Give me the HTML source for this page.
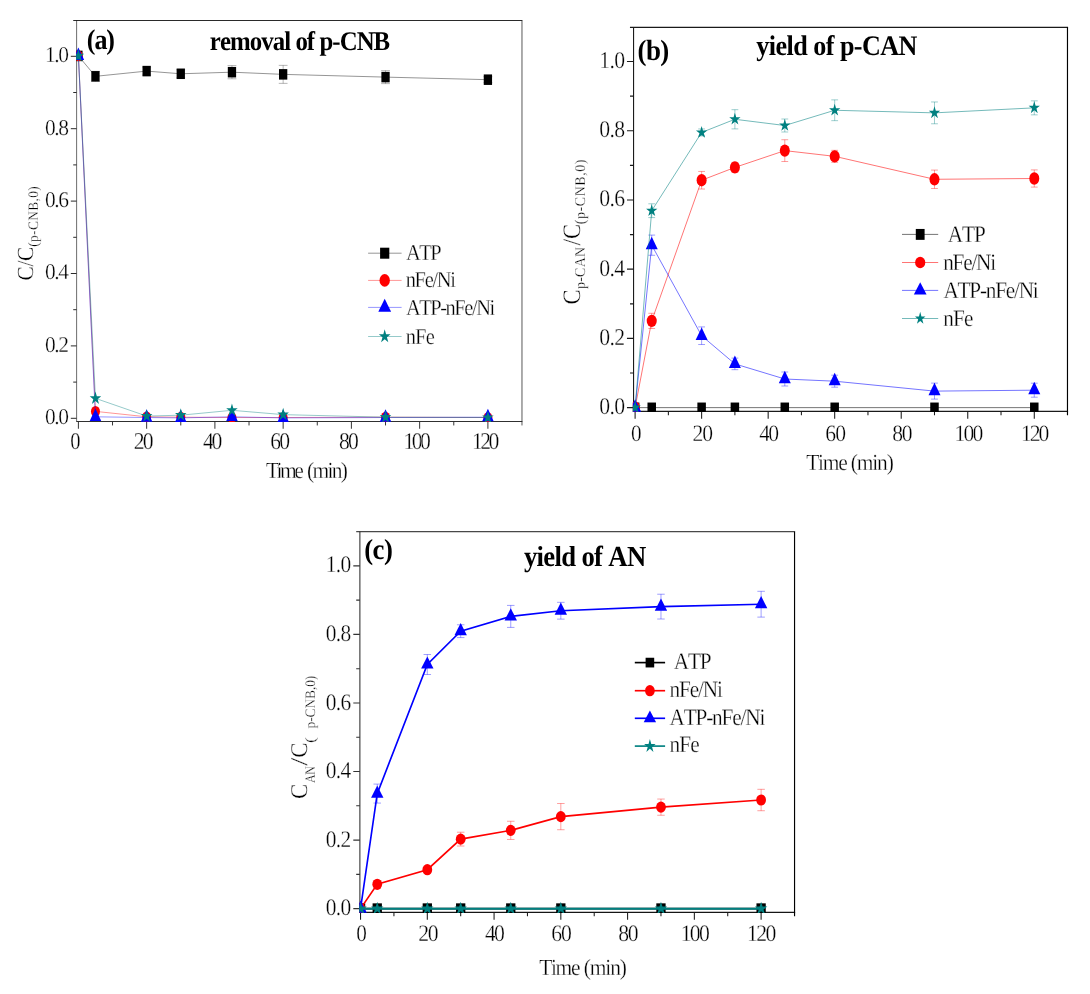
<!DOCTYPE html>
<html><head><meta charset="utf-8"><title>figure</title>
<style>html,body{margin:0;padding:0;background:#fff}svg{display:block;will-change:transform}text{font-family:"Liberation Serif",serif;font-kerning:none;white-space:pre;text-rendering:geometricPrecision}text.r{stroke:#fff;stroke-width:0.3px}</style>
</head><body>
<svg width="1090" height="994" viewBox="0 0 1090 994" font-family="'Liberation Serif', serif" fill="#000">
<rect width="1090" height="994" fill="#fff"/>
<line x1="73.22" y1="20.46" x2="522.35" y2="20.46" stroke="#2a2a2a" stroke-width="1.1"/>
<line x1="76.31" y1="421.45" x2="522.35" y2="421.45" stroke="#303030" stroke-width="1.05"/>
<line x1="76.62" y1="20.46" x2="76.62" y2="421.45" stroke="#111" stroke-width="0.62"/>
<line x1="521.97" y1="20.46" x2="521.97" y2="425.45" stroke="#222" stroke-width="0.75"/>
<path d="M78.40,421.45v7.3M112.53,421.45v4M146.65,421.45v7.3M180.78,421.45v4M214.90,421.45v7.3M249.03,421.45v4M283.15,421.45v7.3M317.27,421.45v4M351.40,421.45v7.3M385.52,421.45v4M419.65,421.45v7.3M453.77,421.45v4M487.90,421.45v7.3" fill="none" stroke="#2a2a2a" stroke-width="0.95"/>
<path d="M76.62,418.30h-5.8M76.62,382.10h-3.4M76.62,345.90h-5.8M76.62,309.70h-3.4M76.62,273.50h-5.8M76.62,237.30h-3.4M76.62,201.10h-5.8M76.62,164.90h-3.4M76.62,128.70h-5.8M76.62,92.50h-3.4M76.62,56.30h-5.8" fill="none" stroke="#2a2a2a" stroke-width="1.0"/>
<clipPath id="clipa"><rect x="76.16" y="20.46" width="445.81" height="401.62"/></clipPath>
<g clip-path="url(#clipa)">
<polyline points="78.40,55.90 95.46,76.32 146.65,71.10 180.78,73.78 231.96,72.19 283.15,74.36 385.52,77.11 487.90,79.68" fill="none" stroke="#000" stroke-width="0.42" stroke-opacity="1"/>
<path d="M95.46,71.32V81.32M91.06,71.32H99.86M91.06,81.32H99.86M146.65,67.10V75.10M142.25,67.10H151.05M142.25,75.10H151.05M180.78,69.78V77.78M176.38,69.78H185.18M176.38,77.78H185.18M231.96,65.59V78.79M227.56,65.59H236.36M227.56,78.79H236.36M283.15,65.36V83.36M278.75,65.36H287.55M278.75,83.36H287.55M385.52,70.61V83.61M381.12,70.61H389.92M381.12,83.61H389.92M487.90,76.68V82.68M483.50,76.68H492.30M483.50,82.68H492.30" fill="none" stroke="#444" stroke-width="0.65" stroke-opacity="0.6"/>
<rect x="74.25" y="50.65" width="8.30" height="10.50" fill="#000"/>
<rect x="91.31" y="71.07" width="8.30" height="10.50" fill="#000"/>
<rect x="142.50" y="65.85" width="8.30" height="10.50" fill="#000"/>
<rect x="176.62" y="68.53" width="8.30" height="10.50" fill="#000"/>
<rect x="227.81" y="66.94" width="8.30" height="10.50" fill="#000"/>
<rect x="279.00" y="69.11" width="8.30" height="10.50" fill="#000"/>
<rect x="381.38" y="71.86" width="8.30" height="10.50" fill="#000"/>
<rect x="483.75" y="74.43" width="8.30" height="10.50" fill="#000"/>
<polyline points="78.40,55.90 95.46,411.38 146.65,416.81 180.78,417.18 231.96,417.54 283.15,417.54 385.52,417.18 487.90,417.54" fill="none" stroke="#ff0000" stroke-width="0.42" stroke-opacity="1"/>
<ellipse cx="78.40" cy="55.90" rx="4.50" ry="5.40" fill="#ff0000"/>
<ellipse cx="95.46" cy="411.38" rx="4.50" ry="5.40" fill="#ff0000"/>
<ellipse cx="146.65" cy="416.81" rx="4.50" ry="5.40" fill="#ff0000"/>
<ellipse cx="180.78" cy="417.18" rx="4.50" ry="5.40" fill="#ff0000"/>
<ellipse cx="231.96" cy="417.54" rx="4.50" ry="5.40" fill="#ff0000"/>
<ellipse cx="283.15" cy="417.54" rx="4.50" ry="5.40" fill="#ff0000"/>
<ellipse cx="385.52" cy="417.18" rx="4.50" ry="5.40" fill="#ff0000"/>
<ellipse cx="487.90" cy="417.54" rx="4.50" ry="5.40" fill="#ff0000"/>
<polyline points="78.40,55.90 95.46,416.81 146.65,417.54 180.78,417.90 231.96,416.81 283.15,417.90 385.52,417.54 487.90,417.18" fill="none" stroke="#0000ff" stroke-width="0.42" stroke-opacity="1"/>
<polygon points="78.40,47.57 72.65,60.07 84.15,60.07" fill="#0000ff"/>
<polygon points="95.46,408.48 89.71,420.98 101.21,420.98" fill="#0000ff"/>
<polygon points="146.65,409.20 140.90,421.70 152.40,421.70" fill="#0000ff"/>
<polygon points="180.78,409.57 175.03,422.07 186.53,422.07" fill="#0000ff"/>
<polygon points="231.96,408.48 226.21,420.98 237.71,420.98" fill="#0000ff"/>
<polygon points="283.15,409.57 277.40,422.07 288.90,422.07" fill="#0000ff"/>
<polygon points="385.52,409.20 379.77,421.70 391.27,421.70" fill="#0000ff"/>
<polygon points="487.90,408.84 482.15,421.34 493.65,421.34" fill="#0000ff"/>
<polyline points="78.40,55.90 95.46,398.35 146.65,416.09 180.78,415.19 231.96,410.30 283.15,414.64 385.52,417.18 487.90,417.54" fill="none" stroke="#008080" stroke-width="0.42" stroke-opacity="1"/>
<polygon points="78.40,48.99 79.76,53.76 84.15,53.76 80.60,56.72 81.95,61.49 78.40,58.54 74.85,61.49 76.20,56.72 72.65,53.76 77.04,53.76" fill="#008080"/>
<polygon points="95.46,391.44 96.82,396.22 101.21,396.22 97.66,399.17 99.02,403.94 95.46,400.99 91.91,403.94 93.27,399.17 89.71,396.22 94.10,396.22" fill="#008080"/>
<polygon points="146.65,409.18 148.01,413.95 152.40,413.95 148.85,416.91 150.20,421.68 146.65,418.73 143.10,421.68 144.45,416.91 140.90,413.95 145.29,413.95" fill="#008080"/>
<polygon points="180.78,408.28 182.13,413.05 186.53,413.05 182.97,416.00 184.33,420.78 180.78,417.82 177.22,420.78 178.58,416.00 175.03,413.05 179.42,413.05" fill="#008080"/>
<polygon points="231.96,403.39 233.32,408.16 237.71,408.16 234.16,411.11 235.52,415.89 231.96,412.94 228.41,415.89 229.77,411.11 226.21,408.16 230.60,408.16" fill="#008080"/>
<polygon points="283.15,407.73 284.51,412.51 288.90,412.51 285.35,415.46 286.70,420.23 283.15,417.28 279.60,420.23 280.95,415.46 277.40,412.51 281.79,412.51" fill="#008080"/>
<polygon points="385.52,410.27 386.88,415.04 391.27,415.04 387.72,417.99 389.08,422.77 385.52,419.82 381.97,422.77 383.33,417.99 379.77,415.04 384.17,415.04" fill="#008080"/>
<polygon points="487.90,410.63 489.26,415.40 493.65,415.40 490.10,418.35 491.45,423.13 487.90,420.18 484.35,423.13 485.70,418.35 482.15,415.40 486.54,415.40" fill="#008080"/>
</g>
<text transform="translate(70.32,448.80) scale(0.855299539170507,1)" font-size="24" class="r" letter-spacing="0.000">0</text>
<text transform="translate(133.85,448.80) scale(0.9,1)" font-size="24" class="r" letter-spacing="-2.031">20</text>
<text transform="translate(202.98,448.80) scale(0.9,1)" font-size="24" class="r" letter-spacing="-2.506">40</text>
<text transform="translate(270.17,448.80) scale(0.9,1)" font-size="24" class="r" letter-spacing="-1.832">60</text>
<text transform="translate(339.08,448.80) scale(0.9,1)" font-size="24" class="r" letter-spacing="-2.172">80</text>
<text transform="translate(403.50,448.80) scale(0.9,1)" font-size="24" class="r" letter-spacing="-2.822">100</text>
<text transform="translate(472.10,448.80) scale(0.9,1)" font-size="24" class="r" letter-spacing="-2.822">120</text>
<text class="r" transform="translate(44.88,424.20) scale(0.95,1)" font-size="22.6" letter-spacing="-1.475">0.0</text>
<text class="r" transform="translate(44.88,351.80) scale(0.95,1)" font-size="22.6" letter-spacing="-1.475">0.2</text>
<text class="r" transform="translate(44.88,279.40) scale(0.95,1)" font-size="22.6" letter-spacing="-1.475">0.4</text>
<text class="r" transform="translate(44.88,207.00) scale(0.95,1)" font-size="22.6" letter-spacing="-1.475">0.6</text>
<text class="r" transform="translate(44.88,134.60) scale(0.95,1)" font-size="22.6" letter-spacing="-1.475">0.8</text>
<text class="r" transform="translate(44.88,62.20) scale(0.95,1)" font-size="22.6" letter-spacing="-1.475">1.0</text>
<text transform="translate(266.01,477.90) scale(0.93,1)" font-size="23.1" class="r" letter-spacing="-2.725">Time</text>
<text transform="translate(306.96,477.90) scale(0.93,1)" font-size="23.1" class="r" letter-spacing="-1.812">(min)</text>
<line x1="368.1" y1="253.2" x2="401.6" y2="253.2" stroke="#000" stroke-width="0.42" stroke-opacity="1"/>
<rect x="380.10" y="247.70" width="9.20" height="11.00" fill="#000"/>
<text transform="translate(405.90,260.10) scale(0.9,1)" font-size="22.7" class="r" letter-spacing="-1.599">ATP</text>
<line x1="368.1" y1="280.4" x2="401.6" y2="280.4" stroke="#ff0000" stroke-width="0.42" stroke-opacity="1"/>
<ellipse cx="384.70" cy="280.40" rx="5.20" ry="6.30" fill="#ff0000"/>
<text transform="translate(405.63,287.30) scale(0.9,1)" font-size="22.7" class="r" letter-spacing="-1.421">nFe/Ni</text>
<line x1="368.1" y1="307.4" x2="401.6" y2="307.4" stroke="#0000ff" stroke-width="0.42" stroke-opacity="1"/>
<polygon points="384.70,298.73 378.30,311.73 391.10,311.73" fill="#0000ff"/>
<text transform="translate(405.90,314.50) scale(0.9,1)" font-size="22.7" class="r" letter-spacing="-1.588">ATP-nFe/Ni</text>
<line x1="368.1" y1="336.5" x2="401.6" y2="336.5" stroke="#008080" stroke-width="0.42" stroke-opacity="1"/>
<polygon points="384.70,329.37 386.08,334.30 390.55,334.30 386.93,337.34 388.32,342.27 384.70,339.22 381.08,342.27 382.47,337.34 378.85,334.30 383.32,334.30" fill="#008080"/>
<text transform="translate(405.63,343.60) scale(0.9,1)" font-size="22.7" class="r" letter-spacing="-0.871">nFe</text>
<text transform="translate(86.86,48.70) scale(0.92,1)" font-size="28.3" font-weight="bold" letter-spacing="-1.234">(a)</text>
<text transform="translate(209.83,50.40) scale(0.92,1)" font-size="27" font-weight="bold" letter-spacing="-1.028">removal of p-CNB</text>
<line x1="629.96" y1="27.25" x2="1068.06" y2="27.25" stroke="#1a1a1a" stroke-width="1.25"/>
<line x1="633.01" y1="411.34" x2="1068.06" y2="411.34" stroke="#1a1a1a" stroke-width="1.3"/>
<line x1="633.56" y1="27.25" x2="633.56" y2="411.34" stroke="#1a1a1a" stroke-width="1.1"/>
<line x1="1067.48" y1="27.25" x2="1067.48" y2="415.34" stroke="#000" stroke-width="1.15"/>
<path d="M635.10,411.34v7.3M668.37,411.34v4M701.63,411.34v7.3M734.89,411.34v4M768.16,411.34v7.3M801.42,411.34v4M834.69,411.34v7.3M867.96,411.34v4M901.22,411.34v7.3M934.49,411.34v4M967.75,411.34v7.3M1001.01,411.34v4M1034.28,411.34v7.3" fill="none" stroke="#1a1a1a" stroke-width="1.05"/>
<path d="M633.56,407.64h-6.6M633.56,373.03h-3.6M633.56,338.41h-6.6M633.56,303.80h-3.6M633.56,269.18h-6.6M633.56,234.57h-3.6M633.56,199.96h-6.6M633.56,165.34h-3.6M633.56,130.73h-6.6M633.56,96.11h-3.6M633.56,61.50h-6.6" fill="none" stroke="#1a1a1a" stroke-width="1.15"/>
<clipPath id="clipb"><rect x="632.86" y="27.25" width="434.62" height="384.84"/></clipPath>
<g clip-path="url(#clipb)">
<polyline points="635.10,407.64 651.73,407.64 701.63,407.64 734.89,407.64 784.79,407.64 834.69,407.64 934.49,407.64 1034.28,407.64" fill="none" stroke="#000" stroke-width="0.55" stroke-opacity="1"/>
<rect x="630.85" y="402.54" width="8.50" height="10.20" fill="#000"/>
<rect x="647.48" y="402.54" width="8.50" height="10.20" fill="#000"/>
<rect x="697.38" y="402.54" width="8.50" height="10.20" fill="#000"/>
<rect x="730.64" y="402.54" width="8.50" height="10.20" fill="#000"/>
<rect x="780.54" y="402.54" width="8.50" height="10.20" fill="#000"/>
<rect x="830.44" y="402.54" width="8.50" height="10.20" fill="#000"/>
<rect x="930.24" y="402.54" width="8.50" height="10.20" fill="#000"/>
<rect x="1030.03" y="402.54" width="8.50" height="10.20" fill="#000"/>
<polyline points="635.10,407.64 651.73,320.89 701.63,180.23 734.89,167.41 784.79,150.62 834.69,156.33 934.49,179.29 1034.28,178.50" fill="none" stroke="#ff0000" stroke-width="0.55" stroke-opacity="1"/>
<path d="M651.73,313.29V328.49M648.33,313.29H655.13M648.33,328.49H655.13M701.63,171.43V189.03M698.23,171.43H705.03M698.23,189.03H705.03M734.89,162.41V172.41M731.50,162.41H738.29M731.50,172.41H738.29M784.79,139.72V161.52M781.39,139.72H788.19M781.39,161.52H788.19M834.69,150.33V162.33M831.29,150.33H838.09M831.29,162.33H838.09M934.49,170.09V188.49M931.09,170.09H937.88M931.09,188.49H937.88M1034.28,169.90V187.10M1030.88,169.90H1037.68M1030.88,187.10H1037.68" fill="none" stroke="#ff0000" stroke-width="0.6" stroke-opacity="0.65"/>
<ellipse cx="635.10" cy="407.64" rx="5.00" ry="6.20" fill="#ff0000"/>
<ellipse cx="651.73" cy="320.89" rx="5.00" ry="6.20" fill="#ff0000"/>
<ellipse cx="701.63" cy="180.23" rx="5.00" ry="6.20" fill="#ff0000"/>
<ellipse cx="734.89" cy="167.41" rx="5.00" ry="6.20" fill="#ff0000"/>
<ellipse cx="784.79" cy="150.62" rx="5.00" ry="6.20" fill="#ff0000"/>
<ellipse cx="834.69" cy="156.33" rx="5.00" ry="6.20" fill="#ff0000"/>
<ellipse cx="934.49" cy="179.29" rx="5.00" ry="6.20" fill="#ff0000"/>
<ellipse cx="1034.28" cy="178.50" rx="5.00" ry="6.20" fill="#ff0000"/>
<polyline points="635.10,407.64 651.73,245.19 701.63,335.72 734.89,363.90 784.79,379.00 834.69,381.19 934.49,391.12 1034.28,390.19" fill="none" stroke="#0000ff" stroke-width="0.55" stroke-opacity="1"/>
<path d="M651.73,235.09V255.29M648.33,235.09H655.13M648.33,255.29H655.13M701.63,326.92V344.52M698.23,326.92H705.03M698.23,344.52H705.03M734.89,358.10V369.70M731.50,358.10H738.29M731.50,369.70H738.29M784.79,372.00V386.00M781.39,372.00H788.19M781.39,386.00H788.19M834.69,375.19V387.19M831.29,375.19H838.09M831.29,387.19H838.09M934.49,383.12V399.12M931.09,383.12H937.88M931.09,399.12H937.88M1034.28,383.19V397.19M1030.88,383.19H1037.68M1030.88,397.19H1037.68" fill="none" stroke="#0000ff" stroke-width="0.6" stroke-opacity="0.65"/>
<polygon points="635.10,399.31 629.10,411.81 641.10,411.81" fill="#0000ff"/>
<polygon points="651.73,236.86 645.73,249.36 657.73,249.36" fill="#0000ff"/>
<polygon points="701.63,327.38 695.63,339.88 707.63,339.88" fill="#0000ff"/>
<polygon points="734.89,355.57 728.89,368.07 740.89,368.07" fill="#0000ff"/>
<polygon points="784.79,370.67 778.79,383.17 790.79,383.17" fill="#0000ff"/>
<polygon points="834.69,372.85 828.69,385.35 840.69,385.35" fill="#0000ff"/>
<polygon points="934.49,382.79 928.49,395.29 940.49,395.29" fill="#0000ff"/>
<polygon points="1034.28,381.86 1028.28,394.36 1040.28,394.36" fill="#0000ff"/>
<polyline points="635.10,407.64 651.73,210.70 701.63,132.44 734.89,119.28 784.79,125.51 834.69,110.27 934.49,112.87 1034.28,107.85" fill="none" stroke="#008080" stroke-width="0.55" stroke-opacity="1"/>
<path d="M651.73,203.80V217.60M648.33,203.80H655.13M648.33,217.60H655.13M701.63,128.94V135.94M698.23,128.94H705.03M698.23,135.94H705.03M734.89,109.68V128.88M731.50,109.68H738.29M731.50,128.88H738.29M784.79,119.01V132.01M781.39,119.01H788.19M781.39,132.01H788.19M834.69,99.87V120.67M831.29,99.87H838.09M831.29,120.67H838.09M934.49,101.97V123.77M931.09,101.97H937.88M931.09,123.77H937.88M1034.28,100.85V114.85M1030.88,100.85H1037.68M1030.88,114.85H1037.68" fill="none" stroke="#008080" stroke-width="0.6" stroke-opacity="0.65"/>
<polygon points="635.10,401.12 636.43,405.62 640.75,405.62 637.26,408.41 638.59,412.92 635.10,410.13 631.61,412.92 632.94,408.41 629.45,405.62 633.77,405.62" fill="#008080"/>
<polygon points="651.73,204.18 653.07,208.69 657.38,208.69 653.89,211.47 655.22,215.98 651.73,213.19 648.24,215.98 649.57,211.47 646.08,208.69 650.40,208.69" fill="#008080"/>
<polygon points="701.63,125.91 702.96,130.42 707.28,130.42 703.79,133.21 705.12,137.71 701.63,134.93 698.14,137.71 699.47,133.21 695.98,130.42 700.30,130.42" fill="#008080"/>
<polygon points="734.89,112.76 736.23,117.26 740.54,117.26 737.05,120.05 738.39,124.56 734.89,121.77 731.40,124.56 732.74,120.05 729.25,117.26 733.56,117.26" fill="#008080"/>
<polygon points="784.79,118.99 786.13,123.50 790.44,123.50 786.95,126.28 788.28,130.79 784.79,128.00 781.30,130.79 782.63,126.28 779.14,123.50 783.46,123.50" fill="#008080"/>
<polygon points="834.69,103.75 836.02,108.26 840.34,108.26 836.85,111.04 838.18,115.55 834.69,112.77 831.20,115.55 832.53,111.04 829.04,108.26 833.36,108.26" fill="#008080"/>
<polygon points="934.49,106.35 935.82,110.86 940.13,110.86 936.64,113.64 937.98,118.15 934.49,115.36 930.99,118.15 932.33,113.64 928.84,110.86 933.15,110.86" fill="#008080"/>
<polygon points="1034.28,101.33 1035.61,105.83 1039.93,105.83 1036.44,108.62 1037.77,113.13 1034.28,110.34 1030.79,113.13 1032.12,108.62 1028.63,105.83 1032.95,105.83" fill="#008080"/>
</g>
<text transform="translate(630.99,441.00) scale(0.9036180017648789,1)" font-size="23.5" class="r" letter-spacing="0.000">0</text>
<text transform="translate(692.45,441.00) scale(0.92,1)" font-size="23.5" class="r" letter-spacing="-1.137">20</text>
<text transform="translate(759.28,441.00) scale(0.92,1)" font-size="23.5" class="r" letter-spacing="-1.929">40</text>
<text transform="translate(825.37,441.00) scale(0.92,1)" font-size="23.5" class="r" letter-spacing="-1.052">60</text>
<text transform="translate(892.18,441.00) scale(0.92,1)" font-size="23.5" class="r" letter-spacing="-1.384">80</text>
<text transform="translate(954.60,441.00) scale(0.92,1)" font-size="23.5" class="r" letter-spacing="-2.069">100</text>
<text transform="translate(1020.90,441.00) scale(0.92,1)" font-size="23.5" class="r" letter-spacing="-2.232">120</text>
<text class="r" transform="translate(599.17,414.14) scale(0.9,1)" font-size="24.1" letter-spacing="-0.700">0.0</text>
<text class="r" transform="translate(599.17,344.91) scale(0.9,1)" font-size="24.1" letter-spacing="-0.700">0.2</text>
<text class="r" transform="translate(599.17,275.68) scale(0.9,1)" font-size="24.1" letter-spacing="-0.700">0.4</text>
<text class="r" transform="translate(599.17,206.46) scale(0.9,1)" font-size="24.1" letter-spacing="-0.700">0.6</text>
<text class="r" transform="translate(599.17,137.23) scale(0.9,1)" font-size="24.1" letter-spacing="-0.700">0.8</text>
<text class="r" transform="translate(599.17,68.00) scale(0.9,1)" font-size="24.1" letter-spacing="-0.700">1.0</text>
<text transform="translate(806.21,470.30) scale(0.93,1)" font-size="23.1" class="r" letter-spacing="-1.363">Time</text>
<text transform="translate(850.66,470.30) scale(0.93,1)" font-size="23.1" class="r" letter-spacing="-1.220">(min)</text>
<line x1="902.0" y1="234.4" x2="938.2" y2="234.4" stroke="#000" stroke-width="0.55" stroke-opacity="1"/>
<rect x="915.80" y="228.95" width="8.80" height="10.90" fill="#000"/>
<text transform="translate(947.79,241.70) scale(0.9,1)" font-size="23.6" class="r" letter-spacing="-1.204">ATP</text>
<line x1="902.0" y1="262.5" x2="938.2" y2="262.5" stroke="#ff0000" stroke-width="0.55" stroke-opacity="1"/>
<ellipse cx="920.20" cy="262.50" rx="5.10" ry="5.80" fill="#ff0000"/>
<text transform="translate(943.21,269.80) scale(0.9,1)" font-size="23.6" class="r" letter-spacing="-1.358">nFe/Ni</text>
<line x1="902.0" y1="290.4" x2="938.2" y2="290.4" stroke="#0000ff" stroke-width="0.55" stroke-opacity="1"/>
<polygon points="920.20,282.13 913.85,294.53 926.55,294.53" fill="#0000ff"/>
<text transform="translate(943.49,297.50) scale(0.9,1)" font-size="23.6" class="r" letter-spacing="-1.357">ATP-nFe/Ni</text>
<line x1="902.0" y1="318.5" x2="938.2" y2="318.5" stroke="#008080" stroke-width="0.55" stroke-opacity="1"/>
<polygon points="920.20,311.87 921.44,316.45 925.45,316.45 922.21,319.28 923.44,323.87 920.20,321.03 916.96,323.87 918.19,319.28 914.95,316.45 918.96,316.45" fill="#008080"/>
<text transform="translate(943.21,325.60) scale(0.9,1)" font-size="23.6" class="r" letter-spacing="-0.965">nFe</text>
<text transform="translate(637.62,60.40) scale(0.92,1)" font-size="29.3" font-weight="bold" letter-spacing="-0.748">(b)</text>
<text transform="translate(756.34,55.10) scale(0.92,1)" font-size="28.4" font-weight="bold" letter-spacing="-0.600">yield of p-CAN</text>
<line x1="356.20" y1="531.7" x2="795.12" y2="531.7" stroke="#484848" stroke-width="1.2"/>
<line x1="359.40" y1="912.35" x2="795.12" y2="912.35" stroke="#151515" stroke-width="1.15"/>
<line x1="359.9" y1="531.7" x2="359.9" y2="912.35" stroke="#222" stroke-width="1.0"/>
<line x1="794.55" y1="531.7" x2="794.55" y2="916.35" stroke="#000" stroke-width="1.15"/>
<path d="M360.55,912.35v7.3M393.93,912.35v4M427.31,912.35v7.3M460.69,912.35v4M494.07,912.35v7.3M527.45,912.35v4M560.83,912.35v7.3M594.21,912.35v4M627.59,912.35v7.3M660.97,912.35v4M694.35,912.35v7.3M727.73,912.35v4M761.11,912.35v7.3" fill="none" stroke="#1a1a1a" stroke-width="1.05"/>
<path d="M359.9,908.64h-6.6M359.9,874.36h-3.7M359.9,840.08h-6.6M359.9,805.81h-3.7M359.9,771.53h-6.6M359.9,737.25h-3.7M359.9,702.97h-6.6M359.9,668.69h-3.7M359.9,634.42h-6.6M359.9,600.14h-3.7M359.9,565.86h-6.6" fill="none" stroke="#333" stroke-width="1.1"/>
<clipPath id="clipc"><rect x="359.25" y="531.70" width="435.30" height="381.33"/></clipPath>
<g clip-path="url(#clipc)">
<polyline points="360.55,908.64 377.24,908.64 427.31,908.64 460.69,908.64 510.76,908.64 560.83,908.64 660.97,908.64 761.11,908.64" fill="none" stroke="#000" stroke-width="1.65" stroke-opacity="1"/>
<rect x="355.90" y="903.34" width="9.30" height="10.60" fill="#000"/>
<rect x="372.59" y="903.34" width="9.30" height="10.60" fill="#000"/>
<rect x="422.66" y="903.34" width="9.30" height="10.60" fill="#000"/>
<rect x="456.04" y="903.34" width="9.30" height="10.60" fill="#000"/>
<rect x="506.11" y="903.34" width="9.30" height="10.60" fill="#000"/>
<rect x="556.18" y="903.34" width="9.30" height="10.60" fill="#000"/>
<rect x="656.32" y="903.34" width="9.30" height="10.60" fill="#000"/>
<rect x="756.46" y="903.34" width="9.30" height="10.60" fill="#000"/>
<polyline points="360.55,908.64 377.24,884.29 427.31,869.72 460.69,839.13 510.76,830.36 560.83,816.62 660.97,807.16 761.11,800.02" fill="none" stroke="#ff0000" stroke-width="1.65" stroke-opacity="1"/>
<path d="M460.69,832.23V846.03M456.94,832.23H464.44M456.94,846.03H464.44M510.76,821.26V839.46M507.01,821.26H514.51M507.01,839.46H514.51M560.83,803.52V829.72M557.08,803.52H564.58M557.08,829.72H564.58M660.97,799.06V815.26M657.22,799.06H664.72M657.22,815.26H664.72M761.11,789.32V810.72M757.36,789.32H764.86M757.36,810.72H764.86" fill="none" stroke="#ff0000" stroke-width="0.75" stroke-opacity="0.5"/>
<ellipse cx="360.55" cy="908.64" rx="4.90" ry="5.60" fill="#ff0000"/>
<ellipse cx="377.24" cy="884.29" rx="4.90" ry="5.60" fill="#ff0000"/>
<ellipse cx="427.31" cy="869.72" rx="4.90" ry="5.60" fill="#ff0000"/>
<ellipse cx="460.69" cy="839.13" rx="4.90" ry="5.60" fill="#ff0000"/>
<ellipse cx="510.76" cy="830.36" rx="4.90" ry="5.60" fill="#ff0000"/>
<ellipse cx="560.83" cy="816.62" rx="4.90" ry="5.60" fill="#ff0000"/>
<ellipse cx="660.97" cy="807.16" rx="4.90" ry="5.60" fill="#ff0000"/>
<ellipse cx="761.11" cy="800.02" rx="4.90" ry="5.60" fill="#ff0000"/>
<polyline points="360.55,908.64 377.24,793.59 427.31,664.53 460.69,631.19 510.76,616.41 560.83,610.74 660.97,606.62 761.11,604.21" fill="none" stroke="#0000ff" stroke-width="1.65" stroke-opacity="1"/>
<path d="M377.24,784.09V803.09M373.49,784.09H380.99M373.49,803.09H380.99M427.31,654.53V674.53M423.56,654.53H431.06M423.56,674.53H431.06M460.69,624.79V637.59M456.94,624.79H464.44M456.94,637.59H464.44M510.76,605.41V627.41M507.01,605.41H514.51M507.01,627.41H514.51M560.83,602.34V619.14M557.08,602.34H564.58M557.08,619.14H564.58M660.97,594.22V619.02M657.22,594.22H664.72M657.22,619.02H664.72M761.11,591.31V617.11M757.36,591.31H764.86M757.36,617.11H764.86" fill="none" stroke="#0000ff" stroke-width="0.75" stroke-opacity="0.5"/>
<polygon points="360.55,900.51 354.35,912.71 366.75,912.71" fill="#0000ff"/>
<polygon points="377.24,785.46 371.04,797.66 383.44,797.66" fill="#0000ff"/>
<polygon points="427.31,656.40 421.11,668.60 433.51,668.60" fill="#0000ff"/>
<polygon points="460.69,623.06 454.49,635.26 466.89,635.26" fill="#0000ff"/>
<polygon points="510.76,608.28 504.56,620.48 516.96,620.48" fill="#0000ff"/>
<polygon points="560.83,602.61 554.63,614.81 567.03,614.81" fill="#0000ff"/>
<polygon points="660.97,598.48 654.77,610.68 667.17,610.68" fill="#0000ff"/>
<polygon points="761.11,596.08 754.91,608.28 767.31,608.28" fill="#0000ff"/>
<polyline points="360.55,908.64 377.24,908.64 427.31,908.64 460.69,908.64 510.76,908.64 560.83,908.64 660.97,908.64 761.11,908.64" fill="none" stroke="#008080" stroke-width="2.0" stroke-opacity="1"/>
<polygon points="360.55,901.73 362.03,906.50 366.80,906.50 362.94,909.46 364.41,914.23 360.55,911.28 356.69,914.23 358.16,909.46 354.30,906.50 359.07,906.50" fill="#008080"/>
<polygon points="377.24,901.73 378.72,906.50 383.49,906.50 379.63,909.46 381.10,914.23 377.24,911.28 373.38,914.23 374.85,909.46 370.99,906.50 375.76,906.50" fill="#008080"/>
<polygon points="427.31,901.73 428.79,906.50 433.56,906.50 429.70,909.46 431.17,914.23 427.31,911.28 423.45,914.23 424.92,909.46 421.06,906.50 425.83,906.50" fill="#008080"/>
<polygon points="460.69,901.73 462.17,906.50 466.94,906.50 463.08,909.46 464.55,914.23 460.69,911.28 456.83,914.23 458.30,909.46 454.44,906.50 459.21,906.50" fill="#008080"/>
<polygon points="510.76,901.73 512.24,906.50 517.01,906.50 513.15,909.46 514.62,914.23 510.76,911.28 506.90,914.23 508.37,909.46 504.51,906.50 509.28,906.50" fill="#008080"/>
<polygon points="560.83,901.73 562.31,906.50 567.08,906.50 563.22,909.46 564.69,914.23 560.83,911.28 556.97,914.23 558.44,909.46 554.58,906.50 559.35,906.50" fill="#008080"/>
<polygon points="660.97,901.73 662.45,906.50 667.22,906.50 663.36,909.46 664.83,914.23 660.97,911.28 657.11,914.23 658.58,909.46 654.72,906.50 659.49,906.50" fill="#008080"/>
<polygon points="761.11,901.73 762.59,906.50 767.36,906.50 763.50,909.46 764.97,914.23 761.11,911.28 757.25,914.23 758.72,909.46 754.86,906.50 759.63,906.50" fill="#008080"/>
</g>
<text transform="translate(356.19,941.00) scale(0.899789111926892,1)" font-size="23.6" class="r" letter-spacing="0.000">0</text>
<text transform="translate(418.25,941.00) scale(0.92,1)" font-size="23.6" class="r" letter-spacing="-1.447">20</text>
<text transform="translate(484.98,941.00) scale(0.92,1)" font-size="23.6" class="r" letter-spacing="-1.914">40</text>
<text transform="translate(551.37,941.00) scale(0.92,1)" font-size="23.6" class="r" letter-spacing="-1.361">60</text>
<text transform="translate(618.37,941.00) scale(0.92,1)" font-size="23.6" class="r" letter-spacing="-1.476">80</text>
<text transform="translate(680.69,941.00) scale(0.92,1)" font-size="23.6" class="r" letter-spacing="-1.866">100</text>
<text transform="translate(746.99,941.00) scale(0.92,1)" font-size="23.6" class="r" letter-spacing="-1.703">120</text>
<text class="r" transform="translate(325.68,915.24) scale(0.9,1)" font-size="23.8" letter-spacing="-0.691">0.0</text>
<text class="r" transform="translate(325.68,846.68) scale(0.9,1)" font-size="23.8" letter-spacing="-0.691">0.2</text>
<text class="r" transform="translate(325.68,778.13) scale(0.9,1)" font-size="23.8" letter-spacing="-0.691">0.4</text>
<text class="r" transform="translate(325.68,709.57) scale(0.9,1)" font-size="23.8" letter-spacing="-0.691">0.6</text>
<text class="r" transform="translate(325.68,641.02) scale(0.9,1)" font-size="23.8" letter-spacing="-0.691">0.8</text>
<text class="r" transform="translate(325.68,572.46) scale(0.9,1)" font-size="23.8" letter-spacing="-0.691">1.0</text>
<text transform="translate(539.31,974.90) scale(0.93,1)" font-size="23.1" class="r" letter-spacing="-1.507">Time</text>
<text transform="translate(583.76,974.90) scale(0.93,1)" font-size="23.1" class="r" letter-spacing="-1.220">(min)</text>
<line x1="634.8" y1="662.6" x2="665.1" y2="662.6" stroke="#000" stroke-width="1.65" stroke-opacity="1"/>
<rect x="645.60" y="657.75" width="8.60" height="9.70" fill="#000"/>
<text transform="translate(673.69,668.90) scale(0.9,1)" font-size="23.6" class="r" letter-spacing="-1.204">ATP</text>
<line x1="634.8" y1="690.7" x2="665.1" y2="690.7" stroke="#ff0000" stroke-width="1.65" stroke-opacity="1"/>
<ellipse cx="649.90" cy="690.70" rx="4.85" ry="5.60" fill="#ff0000"/>
<text transform="translate(669.61,697.00) scale(0.9,1)" font-size="23.6" class="r" letter-spacing="-1.269">nFe/Ni</text>
<line x1="634.8" y1="718.3" x2="665.1" y2="718.3" stroke="#0000ff" stroke-width="1.65" stroke-opacity="1"/>
<polygon points="649.90,710.50 643.70,722.20 656.10,722.20" fill="#0000ff"/>
<text transform="translate(669.49,724.60) scale(0.9,1)" font-size="23.6" class="r" letter-spacing="-1.270">ATP-nFe/Ni</text>
<line x1="634.8" y1="746.1" x2="665.1" y2="746.1" stroke="#008080" stroke-width="1.65" stroke-opacity="1"/>
<polygon points="649.90,738.91 651.26,743.88 655.65,743.88 652.10,746.95 653.45,751.91 649.90,748.85 646.35,751.91 647.70,746.95 644.15,743.88 648.54,743.88" fill="#008080"/>
<text transform="translate(669.61,752.10) scale(0.9,1)" font-size="23.6" class="r" letter-spacing="-1.020">nFe</text>
<text transform="translate(364.23,558.80) scale(0.92,1)" font-size="29" font-weight="bold" letter-spacing="-0.579">(c)</text>
<text transform="translate(523.94,565.50) scale(0.92,1)" font-size="29" font-weight="bold" letter-spacing="-0.732">yield of AN</text>
<text transform="translate(33.20,280.58) rotate(-90) scale(0.93,1)" font-size="23" class="r" letter-spacing="-0.279">C/C</text>
<text transform="translate(38.10,246.79) rotate(-90) scale(0.93,1)" font-size="14.4" class="r" letter-spacing="0.393">(p-CNB,0)</text>
<text transform="translate(580.10,304.53) rotate(-90) scale(0.9039931565440548,1)" font-size="25" class="r" letter-spacing="0.000">C</text>
<text transform="translate(585.40,289.02) rotate(-90) scale(0.93,1)" font-size="15" class="r" letter-spacing="0.261">p-CAN</text>
<text transform="translate(580.10,245.50) rotate(-90) scale(0.9502144112478031,1)" font-size="25" class="r" letter-spacing="0.000">/</text>
<text transform="translate(580.10,239.03) rotate(-90) scale(0.9039931565440548,1)" font-size="25" class="r" letter-spacing="0.000">C</text>
<text transform="translate(585.40,224.21) rotate(-90) scale(0.93,1)" font-size="15" class="r" letter-spacing="0.614">(p-CNB,0)</text>
<text transform="translate(306.80,798.93) rotate(-90) scale(0.9489592244083263,1)" font-size="24" class="r" letter-spacing="0.000">C</text>
<text transform="translate(315.20,782.92) rotate(-90) scale(0.82,1)" font-size="14.6" class="r" letter-spacing="-0.488">AN</text>
<text transform="translate(306.80,765.80) rotate(-90) scale(1.214762741652021,1)" font-size="24" class="r" letter-spacing="0.000">/</text>
<text transform="translate(306.80,757.63) rotate(-90) scale(0.9489592244083263,1)" font-size="24" class="r" letter-spacing="0.000">C</text>
<text transform="translate(314.50,743.07) rotate(-90) scale(1.2167300380228137,1)" font-size="14.4" class="r" letter-spacing="0.000">(</text>
<text transform="translate(314.50,728.42) rotate(-90) scale(0.93,1)" font-size="14.4" class="r" letter-spacing="-0.075">p-CNB,0)</text>
</svg>
</body></html>
